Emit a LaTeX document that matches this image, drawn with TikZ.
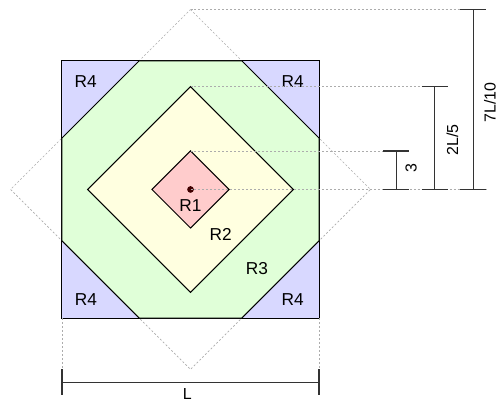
\documentclass[tikz,border=0pt]{standalone}
\usepackage{fontspec}
\setmainfont{Liberation Sans}
\usepackage{tikz}

\definecolor{regone}{HTML}{FFCCCC}
\definecolor{regtwo}{HTML}{FFFFE0}
\definecolor{regthree}{HTML}{E0FFD8}
\definecolor{regfour}{HTML}{D8D8FF}
\definecolor{dotcol}{HTML}{400000}

\begin{document}
\begin{tikzpicture}[x=6.8cm,y=6.8cm,
  guide/.style={gray!65,line width=0.5pt,dash pattern=on 1.5pt off 1.5pt},
  region/.style={draw=black,line width=0.75pt},
  dimline/.style={black!80,line width=0.9pt},
  lbl/.style={font=\fontsize{13}{15}\selectfont},
  dimlbl/.style={font=\fontsize{12}{14}\selectfont,rotate=90}]
\useasboundingbox (-0.741,-0.828) rectangle (1.196,0.737);
\coordinate (c) at (0,0);
\coordinate (t1) at (0,0.15);
\coordinate (t2) at (0,0.4);
\coordinate (t3) at (0,0.7);
% dashed diamond 7L/10
\draw[guide] (t3) -- (0.7,0) -- (0,-0.7) -- (-0.7,0) -- cycle;
% regions
\filldraw[region,fill=regfour] (-0.5,-0.5) rectangle (0.5,0.5);
\filldraw[region,fill=regthree] (-0.2,0.5) -- (0.2,0.5) -- (0.5,0.2) -- (0.5,-0.2)
  -- (0.2,-0.5) -- (-0.2,-0.5) -- (-0.5,-0.2) -- (-0.5,0.2) -- cycle;
\filldraw[region,fill=regtwo] (t2) -- (0.4,0) -- (0,-0.4) -- (-0.4,0) -- cycle;
\filldraw[region,fill=regone] (t1) -- (0.15,0) -- (0,-0.15) -- (-0.15,0) -- cycle;
\fill[dotcol] (c) circle (0.013);
\node[lbl] (r1) at (0,-0.061) {R1};
\node[lbl] (r2) at (0.117,-0.174) {R2};
\node[lbl] (r3) at (0.258,-0.307) {R3};
\node[lbl] (r4a) at (-0.408,0.421) {R4};
\node[lbl] (r4b) at (0.397,0.421) {R4};
\node[lbl] (r4c) at (-0.407,-0.429) {R4};
\node[lbl] (r4d) at (0.397,-0.429) {R4};
% guide lines to the dimensions
\draw[guide] (t3) -- (1.05,0.7);
\draw[guide] (t2) -- (0.9,0.4);
\draw[guide] (t1) -- (0.75,0.15);
\draw[guide] (c) -- (1.15,0);
\draw[guide] (-0.5,-0.5) -- (-0.5,-0.7);
\draw[guide] (0.5,-0.5) -- (0.5,-0.7);
% dimensions
\draw[dimline] (0.75,0.15) -- (0.85,0.15) (0.8,0.15) -- (0.8,0) (0.75,0) -- (0.85,0);
\draw[dimline] (0.9,0.4) -- (1.0,0.4) (0.95,0.4) -- (0.95,0) (0.9,0) -- (1.0,0);
\draw[dimline] (1.05,0.7) -- (1.15,0.7) (1.1,0.7) -- (1.1,0) (1.05,0) -- (1.15,0);
\draw[dimline] (-0.5,-0.7) -- (-0.5,-0.8) (-0.5,-0.75) -- (0.5,-0.75) (0.5,-0.7) -- (0.5,-0.8);
\node[dimlbl] (d1) at (0.858,0.083) {3};
\node[dimlbl] (d2) at (1.019,0.192) {2L/5};
\node[dimlbl] (d3) at (1.165,0.338) {7L/10};
\node[lbl,font=\fontsize{12}{14}\selectfont] (dl) at (-0.012,-0.795) {L};
\end{tikzpicture}
\end{document}
